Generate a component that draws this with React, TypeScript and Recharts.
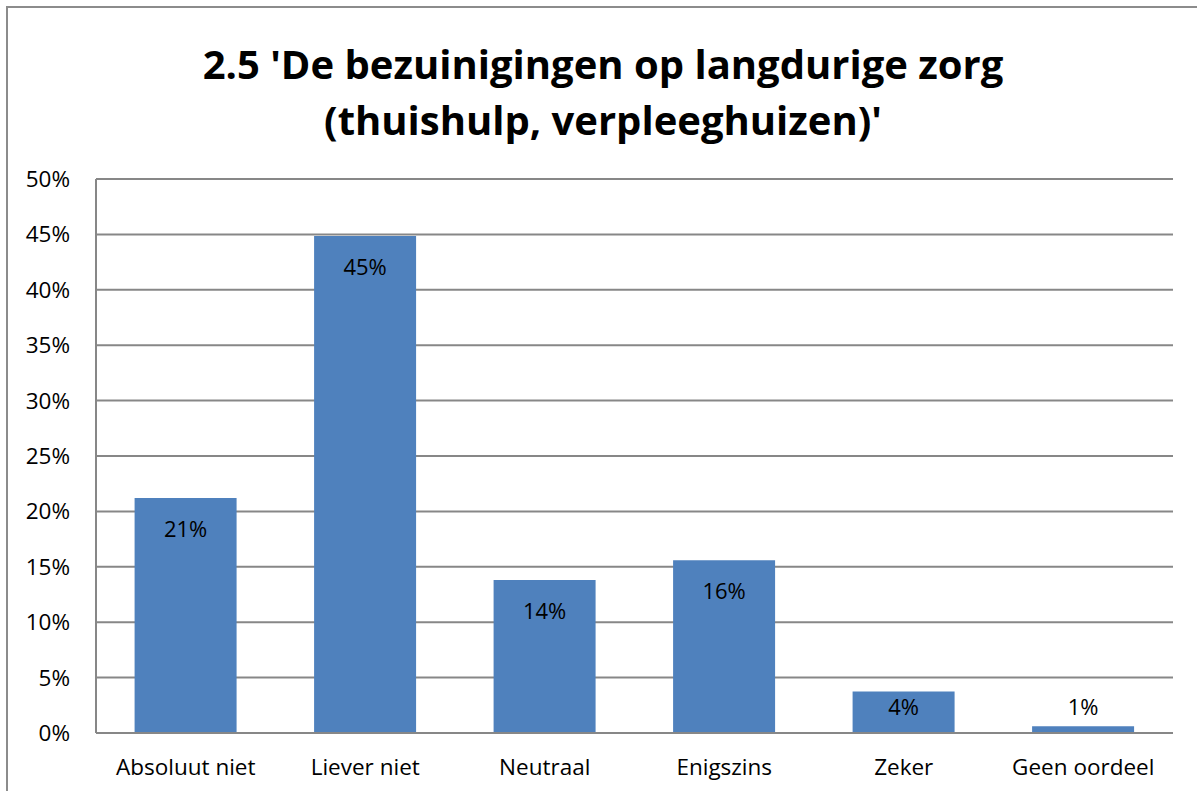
import React from "react";
import { BarChart, Bar, XAxis, YAxis, CartesianGrid, LabelList } from "recharts";

const categories = ["Absoluut niet", "Liever niet", "Neutraal", "Enigszins", "Zeker", "Geen oordeel"];
const shares = [21.2, 44.85, 13.8, 15.6, 3.75, 0.62];
const shareLabels = ["21%", "45%", "14%", "16%", "4%", "1%"];
const yTicks = [0, 5, 10, 15, 20, 25, 30, 35, 40, 45, 50];
const titleLines = ["2.5 'De bezuinigingen op langdurige zorg", "(thuishulp, verpleeghuizen)'"];

const data = categories.map((name, i) => ({ name, value: shares[i], label: shareLabels[i] }));

const FONT = "'Open Sans', Lato, sans-serif";
const GRID = "#878787";

function ValueLabel(props: any) {
  const { x, y, width, height, index } = props;
  const cy = Math.min(y + 30, y + height - 27.5);
  return (
    <text
      x={x + width / 2}
      y={cy}
      textAnchor="middle"
      dominantBaseline="central"
      fontFamily={FONT}
      fontSize={22}
      fill="#000"
    >
      {shareLabels[index]}
    </text>
  );
}

export default function App() {
  return (
    <div
      style={{
        position: "absolute",
        left: 0,
        top: 0,
        width: 1197,
        height: 791,
        overflow: "hidden",
        background: "#fff",
        fontFamily: FONT,
      }}
    >
      <div
        style={{
          position: "absolute",
          left: 6,
          top: 6,
          width: 1220,
          height: 820,
          border: "2px solid #8c8c8c",
        }}
      />
      <div
        style={{
          position: "absolute",
          left: 0,
          top: 36,
          width: 1206,
          textAlign: "center",
          fontWeight: 700,
          fontSize: 40,
          lineHeight: "56px",
          color: "#000",
        }}
      >
        {titleLines.map((t) => (
          <div key={t}>{t}</div>
        ))}
      </div>
      <div style={{ position: "absolute", left: 0, top: 0 }}>
        <BarChart
          width={1197}
          height={791}
          data={data}
          margin={{ top: 179, right: 24, left: 0, bottom: 0 }}
          barCategoryGap="21.5%"
        >
          <CartesianGrid vertical={false} stroke={GRID} strokeWidth={2} />
          <XAxis
            dataKey="name"
            tickLine={false}
            axisLine={{ stroke: GRID, strokeWidth: 2 }}
            height={58}
            tickMargin={20}
            tick={{ fontFamily: FONT, fontSize: 22.5, fill: "#000" }}
            interval={0}
          />
          <YAxis
            domain={[0, 50]}
            ticks={yTicks}
            width={96}
            tickLine={false}
            tickSize={0}
            tickMargin={26}
            axisLine={{ stroke: GRID, strokeWidth: 2 }}
            tickFormatter={(v) => `${v}%`}
            tick={{ fontFamily: FONT, fontSize: 22.5, fill: "#000" }}
          />
          <Bar dataKey="value" fill="#4f81bd" isAnimationActive={false}>
            <LabelList dataKey="label" content={<ValueLabel />} />
          </Bar>
        </BarChart>
      </div>
    </div>
  );
}
